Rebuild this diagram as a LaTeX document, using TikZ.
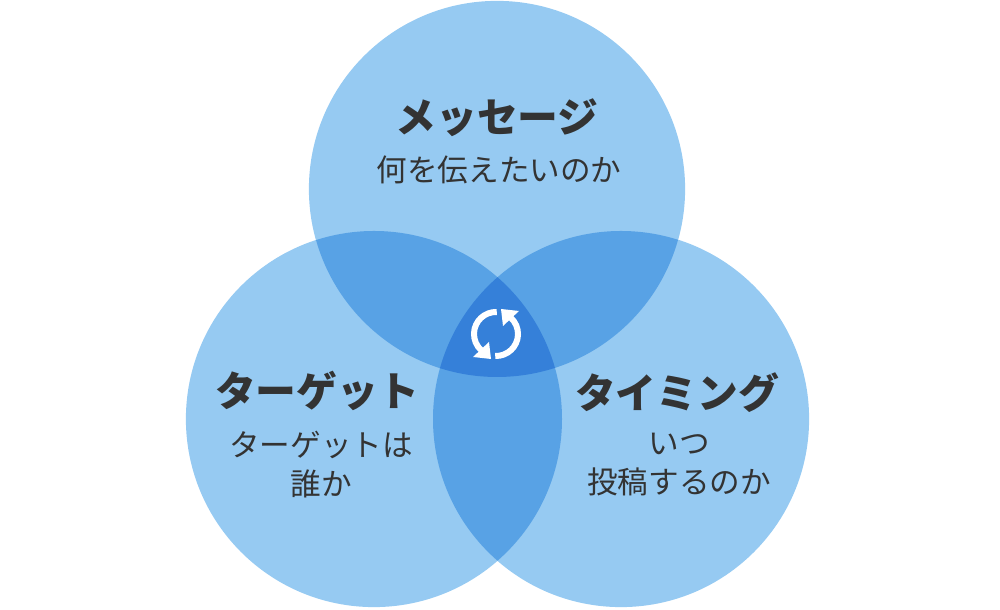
\documentclass[tikz,border=0pt]{standalone}
\usepackage{fontspec}
\setmainfont{Noto Sans CJK JP}
\usepackage{xcolor}
\usetikzlibrary{positioning}
\definecolor{basecol}{HTML}{96CAF2}
\definecolor{paircol}{HTML}{58A2E5}
\definecolor{corecol}{HTML}{3580D9}
\definecolor{textcol}{HTML}{333333}
\tikzset{
    petal/.style={circle, fill=basecol, minimum size=3.76cm, inner sep=0pt},
    headlabel/.style={text=textcol, inner sep=0pt, font=\fontsize{11.6}{14}\selectfont\bfseries},
    sublabel/.style={text=textcol, inner sep=0pt, align=center, font=\fontsize{8.7}{11.1}\selectfont}
}
\begin{document}
\begin{tikzpicture}[x=0.01cm, y=0.01cm]
    \useasboundingbox (0,0) rectangle (1000,610);
    \node (message) [petal] at (497,421) {};
    \node (target) [petal] at (374,191) {};
    \node (timing) [petal] at (621,191) {};

    % overlaps
    \begin{scope}
        \clip (497,421) circle (188);
        \fill [paircol] (374,191) circle (188);
        \fill [paircol] (621,191) circle (188);
    \end{scope}
    \begin{scope}
        \clip (374,191) circle (188);
        \fill [paircol] (621,191) circle (188);
        \clip (621,191) circle (188);
        \fill [corecol] (497,421) circle (188);
    \end{scope}

    % cycle icon
    \coordinate (cycle) at (496,276);
    \draw [white, line width=0.06cm] ([shift={(88:22)}]cycle) arc (88:228:22);
    \draw [white, line width=0.06cm] ([shift={(268:22)}]cycle) arc (268:408:22);
    \fill [white] (473,253) -- (491,251) -- (489,268) -- cycle;
    \fill [white] (519,299) -- (501,301) -- (503,284) -- cycle;

    \node (messagehead) [headlabel] at (497,492) {メッセージ};
    \node (messagesub) [sublabel] at (499,440) {何を伝えたいのか};
    \node (targethead) [headlabel] at (317,219) {ターゲット};
    \node (targetsub) [sublabel] at (321,145.5) {ターゲットは\\誰か};
    \node (timinghead) [headlabel] at (677,217) {タイミング};
    \node (timingsub) [sublabel] at (679,145.5) {いつ\\投稿するのか};
\end{tikzpicture}
\end{document}
